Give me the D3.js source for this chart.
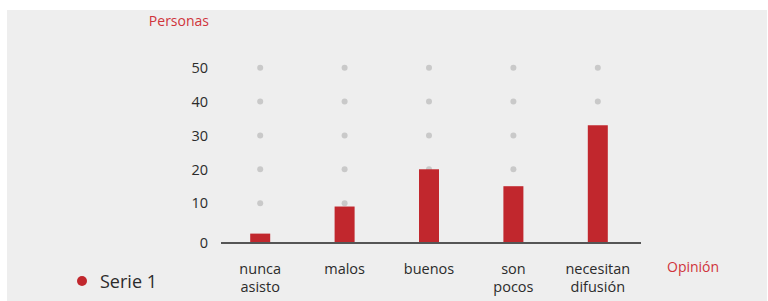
<!DOCTYPE html>
<html lang="es">
<head>
<meta charset="utf-8" />
<title>Opinión</title>
<script src="https://d3js.org/d3.v7.min.js"></script>
<style>
  body { margin: 0; background: #fff; }
  text { font-family: "Open Sans", "Noto Sans", sans-serif; }
</style>
</head>
<body>
<div id="chart"></div>
<script>
// data
var categories = [["nunca", "asisto"], ["malos"], ["buenos"], ["son", "pocos"], ["necesitan", "difusión"]];
var serie1 = [1, 9, 20, 15, 33];
var yTicks = [0, 10, 20, 30, 40, 50];
var seriesName = "Serie 1";

var width = 768, height = 301;
var red = "#c1272d";

var svg = d3.select("#chart").append("svg")
    .attr("width", width)
    .attr("height", height);

// panel background
svg.append("rect")
    .attr("x", 7).attr("y", 10)
    .attr("width", 760).attr("height", 291)
    .attr("fill", "#eeeeee");

var baseY = 243;

var x = d3.scaleBand()
    .domain(d3.range(categories.length))
    .range([218, 640]);

var y = d3.scaleLinear()
    .domain([0, 50])
    .range([237, 67.7]);

// dotted grid, one column per category
var grid = svg.append("g");
categories.forEach(function(c, i) {
  grid.selectAll(null)
      .data(yTicks.filter(function(t) { return t > 0; }))
      .enter().append("circle")
      .attr("cx", x(i) + x.bandwidth() / 2)
      .attr("cy", function(d) { return y(d); })
      .attr("r", 3)
      .attr("fill", "#c9c9c9");
});

// bars (they sit on the axis line)
svg.selectAll("rect.bar")
    .data(serie1)
    .enter().append("rect")
    .attr("class", "bar")
    .attr("x", function(d, i) { return x(i) + x.bandwidth() / 2 - 10; })
    .attr("width", 20)
    .attr("y", function(d) { return y(d); })
    .attr("height", function(d) { return baseY - y(d); })
    .attr("fill", red);

// axis line
svg.append("line")
    .attr("x1", 221).attr("x2", 641)
    .attr("y1", baseY).attr("y2", baseY)
    .attr("stroke", "#555")
    .attr("stroke-width", 2);

// y tick labels
svg.selectAll("text.ytick")
    .data(yTicks)
    .enter().append("text")
    .attr("class", "ytick")
    .attr("x", 208)
    .attr("y", function(d) { return d === 0 ? baseY : y(d); })
    .attr("dy", "0.36em")
    .attr("text-anchor", "end")
    .attr("font-size", 14.5)
    .attr("fill", "#2b2b2b")
    .text(function(d) { return d; });

// category labels
var cat = svg.selectAll("text.cat")
    .data(categories)
    .enter().append("text")
    .attr("class", "cat")
    .attr("text-anchor", "middle")
    .attr("font-size", 14.5)
    .attr("fill", "#2b2b2b");
cat.selectAll("tspan")
    .data(function(d, i) { return d.map(function(s) { return {s: s, i: i}; }); })
    .enter().append("tspan")
    .attr("x", function(d) { return x(d.i) + x.bandwidth() / 2; })
    .attr("y", function(d, j) { return 274 + j * 18; })
    .text(function(d) { return d.s; });

// axis titles
svg.append("text")
    .attr("x", 209).attr("y", 26)
    .attr("text-anchor", "end")
    .attr("font-size", 14)
    .attr("fill", "#d0343b")
    .text("Personas");

svg.append("text")
    .attr("x", 667).attr("y", 272)
    .attr("font-size", 14)
    .attr("fill", "#d0343b")
    .text("Opinión");

// legend
svg.append("circle")
    .attr("cx", 82).attr("cy", 281)
    .attr("r", 5)
    .attr("fill", red);
svg.append("text")
    .attr("x", 100).attr("y", 288)
    .attr("font-size", 18)
    .attr("fill", "#2b2b2b")
    .text(seriesName);
</script>
</body>
</html>
